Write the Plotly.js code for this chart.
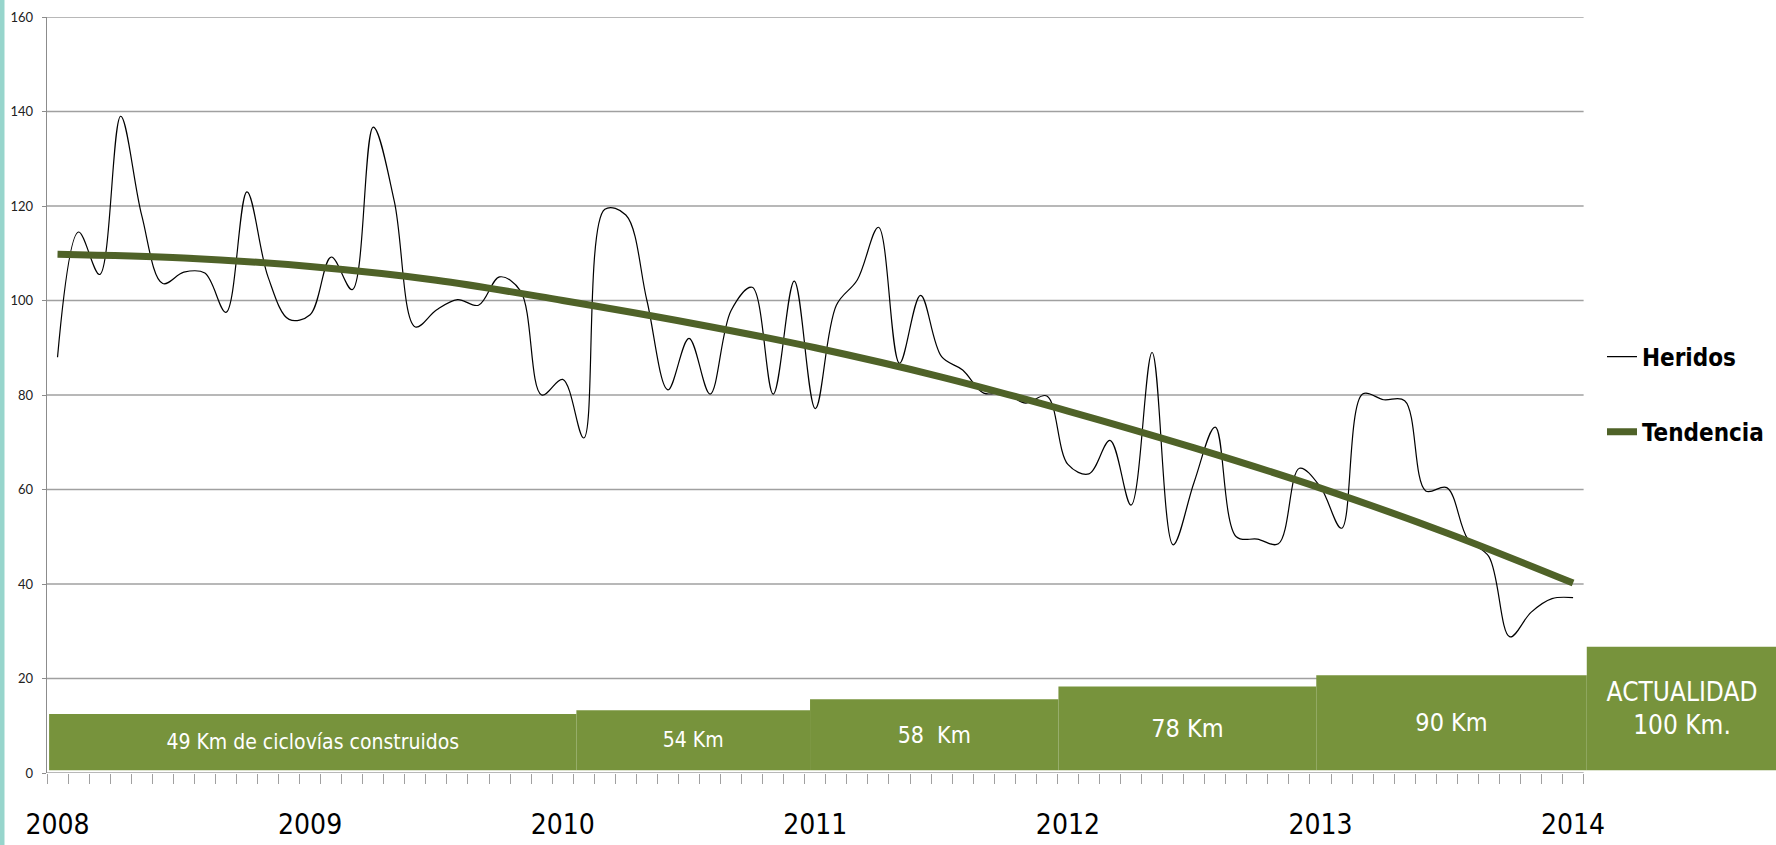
<!DOCTYPE html>
<html>
<head>
<meta charset="utf-8">
<script src="https://cdn.plot.ly/plotly-3.0.1.min.js"></script>
<style>
html,body{margin:0;padding:0;background:#fff;}
#chart{width:1776px;height:845px;}
</style>
</head>
<body>
<div id="chart"></div>
<script>
// ---- data (monthly index 0 = Jan 2008 ... 72 = Jan 2014) ----
const years = ['2008','2009','2010','2011','2012','2013','2014'];
const yearIdx = [0, 12, 24, 36, 48, 60, 72];

const heridos = [88,114.5,105.5,139,118,103.6,106,105.8,97.5,123,
  105,96,97,109.2,102.3,136.7,121,94.4,98,100.2,
  99,105,102,80,83.3,70.9,119.3,118.1,100,81.1,
  92,80.2,97.9,102.8,80.2,104.1,77.1,99,104.4,115.5,
  86.7,101.1,88.1,85.3,80.4,80.4,78.3,79.8,65.3,63.3,
  70.4,56.7,89,48.3,61.6,73.2,50,49.5,48.5,64.5,
  60.5,51.8,80.2,79,78.8,59.7,60.4,49.5,45.8,28.8,
  34,36.9,37.1];

const tendIdx  = [0, 6, 12, 18, 24, 30, 36, 42, 48, 54, 60, 66, 72];
const tendVals = [109.8,109.0,107.2,104.3,100.0,95.3,90.0,83.8,76.6,68.8,60.3,50.8,40.2];

const blockLabels = ['49 Km de ciclovías construidos','54 Km','58  Km','78 Km','90 Km','ACTUALIDAD<br>100 Km.'];
const blockFrom = [-0.4, 24.65, 35.75, 47.55, 59.8, 72.65];
const blockTo   = [24.65, 35.75, 47.55, 59.8, 72.65, 81.7];
const blockTop  = [12.5, 13.3, 15.6, 18.3, 20.7, 26.7];

const yTicks = [0,20,40,60,80,100,120,140,160];

// ---- build ----
const NARROW = "'Liberation Sans Narrow','Arial Narrow','DejaVu Sans Condensed',sans-serif";
const xIdx = heridos.map((_, i) => i);
const blockBase = 0.6;
const bx = blockFrom.map((f, i) => (f + blockTo[i]) / 2);
const bw = blockFrom.map((f, i) => blockTo[i] - f);
const bh = blockTop.map(t => t - blockBase);
const boundaries = [];
for (let k = 0; k <= heridos.length; k++) boundaries.push(k - 0.5);
const xEnd = heridos.length - 0.5;

const traces = [
  {
    type: 'bar', x: bx, y: bh, base: blockBase, width: bw,
    marker: {color: '#77933c', line: {width: 0}},
    text: blockLabels, textposition: 'inside', insidetextanchor: 'middle',
    textangle: 0, constraintext: 'none',
    textfont: {family: NARROW, size: [21, 21, 23, 25, 25, 26], color: '#ffffff'},
    showlegend: false, hoverinfo: 'skip'
  },
  {
    type: 'scatter', mode: 'lines', name: 'Heridos', x: xIdx, y: heridos,
    line: {color: '#000000', width: 1.2, shape: 'spline', smoothing: 1},
    legendgroup: 'g1'
  },
  {
    type: 'scatter', mode: 'lines', name: 'Tendencia', x: tendIdx, y: tendVals,
    line: {color: '#4f6228', width: 7, shape: 'spline', smoothing: 1},
    legendgroup: 'g2'
  }
];

const shapes = [];
yTicks.forEach(v => {
  shapes.push({type: 'line', xref: 'x', yref: 'y', x0: -0.5, x1: xEnd, y0: v, y1: v,
    line: {color: '#a0a0a0', width: 1.3}, layer: 'below'});
});
shapes.push({type: 'rect', xref: 'paper', yref: 'paper', x0: -47/1729, x1: -42.5/1729,
  y0: -72/756, y1: 1 + 17/756, fillcolor: '#97d5cc', line: {width: 0}, layer: 'above'});

const layout = {
  width: 1776, height: 845,
  margin: {l: 47, r: 0, t: 17, b: 72, pad: 0, autoexpand: false},
  paper_bgcolor: '#ffffff', plot_bgcolor: '#ffffff',
  showlegend: true,
  hovermode: false,
  legend: {
    x: (1602 - 47) / 1729, xanchor: 'left', y: 0.580, yanchor: 'top',
    font: {family: NARROW, size: 24, weight: 'bold', color: '#000'},
    traceorder: 'grouped', tracegroupgap: 41, bgcolor: 'rgba(0,0,0,0)', itemwidth: 30
  },
  xaxis: {
    range: [-0.5, 81.64], showgrid: false, zeroline: false, showline: false,
    tickmode: 'array', tickvals: yearIdx, ticktext: years, ticks: '',
    tickfont: {family: NARROW, size: 28, color: '#000'},
    ticklabelstandoff: 32,
    minor: {tickmode: 'array', tickvals: boundaries, ticks: 'outside', ticklen: 10,
            tickcolor: '#a0a0a0', tickwidth: 1, showgrid: false},
    fixedrange: true
  },
  yaxis: {
    range: [0, 160], tickmode: 'array', tickvals: yTicks,
    showgrid: false, zeroline: false, showline: true, linecolor: '#8c8c8c', linewidth: 1.3,
    ticks: 'outside', ticklen: 4, tickcolor: '#8c8c8c',
    tickfont: {family: 'Lato', size: 13, color: '#222'},
    ticklabelstandoff: 6, fixedrange: true
  },
  shapes: shapes
};

Plotly.newPlot('chart', traces, layout, {displayModeBar: false, staticPlot: true});
</script>
</body>
</html>
